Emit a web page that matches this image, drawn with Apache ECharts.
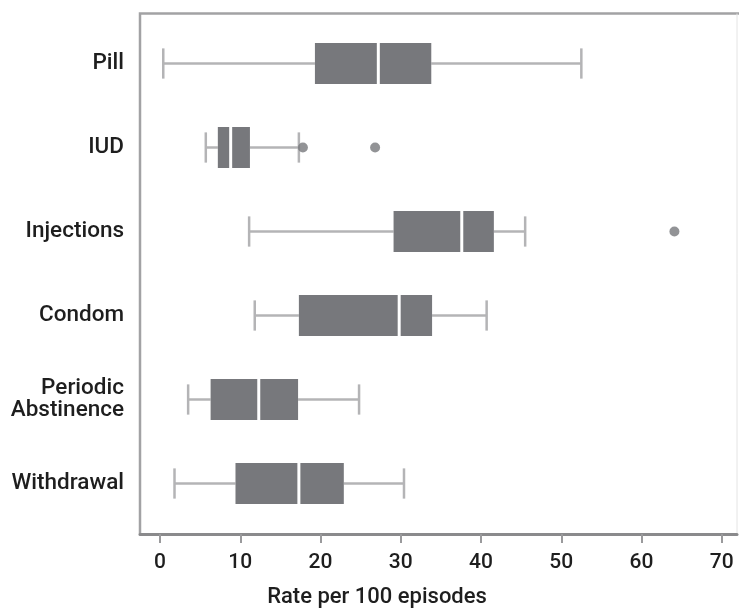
<!DOCTYPE html>
<html>
<head>
<meta charset="utf-8">
<script src="https://cdn.jsdelivr.net/npm/echarts@6/dist/echarts.min.js"></script>
<style>
  html, body { margin: 0; padding: 0; background: #fff; }
  #chart { width: 739px; height: 613px; }
</style>
</head>
<body>
<div id="chart"></div>
<script>
// ---- data ----
const categories = ['Pill', 'IUD', 'Injections', 'Condom', 'Periodic\nAbstinence', 'Withdrawal'];
const lowWhisker = [0.4, 5.7, 11.1, 11.8, 3.5, 1.8];
const q1 = [19.3, 7.2, 29.1, 17.3, 6.3, 9.4];
const median = [27.2, 8.8, 37.6, 29.8, 12.3, 17.3];
const q3 = [33.8, 11.2, 41.6, 33.9, 17.2, 22.9];
const highWhisker = [52.5, 17.3, 45.5, 40.7, 24.8, 30.4];
const outlierCategory = ['IUD', 'IUD', 'Injections'];
const outlierValue = [17.8, 26.8, 64.1];
const tickValues = [0, 10, 20, 30, 40, 50, 60, 70];
const axisTitle = 'Rate per 100 episodes';

const boxData = categories.map((c, i) => [i, lowWhisker[i], q1[i], median[i], q3[i], highWhisker[i]]);
const outlierData = outlierValue.map((v, i) => [v, categories.indexOf(outlierCategory[i])]);

const FONT = 'Roboto, "Noto Sans", sans-serif';
const chart = echarts.init(document.getElementById('chart'), null, { renderer: 'canvas' });

function renderBox(params, api) {
  const idx = api.value(0);
  const pLow = api.coord([api.value(1), idx]);
  const pQ1 = api.coord([api.value(2), idx]);
  const pMed = api.coord([api.value(3), idx]);
  const pQ3 = api.coord([api.value(4), idx]);
  const pHigh = api.coord([api.value(5), idx]);
  const band = api.size([0, 1])[1];
  const boxH = band * 0.49;
  const capH = band * 0.36;
  const y = pMed[1];
  const whiskerStyle = { stroke: '#b4b4b6', lineWidth: 2.5 };
  return {
    type: 'group',
    children: [
      { type: 'line', shape: { x1: pLow[0], y1: y, x2: pQ1[0], y2: y }, style: whiskerStyle },
      { type: 'line', shape: { x1: pQ3[0], y1: y, x2: pHigh[0], y2: y }, style: whiskerStyle },
      { type: 'line', shape: { x1: pLow[0], y1: y - capH / 2, x2: pLow[0], y2: y + capH / 2 }, style: whiskerStyle },
      { type: 'line', shape: { x1: pHigh[0], y1: y - capH / 2, x2: pHigh[0], y2: y + capH / 2 }, style: whiskerStyle },
      { type: 'rect', shape: { x: pQ1[0], y: y - boxH / 2, width: pQ3[0] - pQ1[0], height: boxH }, style: { fill: '#77787c' } },
      { type: 'line', shape: { x1: pMed[0], y1: y - boxH / 2, x2: pMed[0], y2: y + boxH / 2 }, style: { stroke: '#ffffff', lineWidth: 3 } }
    ]
  };
}

const option = {
  animation: false,
  backgroundColor: '#ffffff',
  grid: { left: 140, right: 2, top: 21.5, bottom: 87.5, containLabel: false },
  xAxis: {
    type: 'value',
    min: -2.5,
    max: 71.9,
    offset: 8.5,
    axisLine: { show: true, lineStyle: { color: '#8a8a8c', width: 3 } },
    axisTick: { show: true, customValues: tickValues, length: 9, lineStyle: { color: '#9a9a9c', width: 2 } },
    axisLabel: { customValues: tickValues, margin: 18, fontFamily: FONT, fontSize: 21, fontWeight: 500, color: '#1e1e1e' },
    splitLine: { show: false }
  },
  yAxis: {
    type: 'category',
    data: categories,
    inverse: true,
    axisLine: { show: false },
    axisTick: { show: false },
    axisLabel: { margin: 16, fontFamily: FONT, fontSize: 22.5, fontWeight: 500, color: '#1e1e1e', lineHeight: 22, align: 'right' },
    splitLine: { show: false }
  },
  graphic: [
    { type: 'polyline', z: 0, shape: { points: [[140, 534], [140, 13.5], [739, 13.5]] }, style: { stroke: '#a2a2a4', lineWidth: 2.5, fill: null } },
    { type: 'line', z: 0, shape: { x1: 737, y1: 13.5, x2: 737, y2: 534 }, style: { stroke: '#e4e4e4', lineWidth: 1 } },
    { type: 'text', x: 377, y: 597, style: { text: axisTitle, fontFamily: FONT, fontSize: 22, fontWeight: 500, fill: '#1e1e1e', align: 'center', verticalAlign: 'middle' } }
  ],
  series: [
    {
      type: 'custom',
      renderItem: renderBox,
      encode: { x: [1, 2, 3, 4, 5], y: 0 },
      data: boxData,
      z: 2
    },
    {
      type: 'scatter',
      data: outlierData,
      symbol: 'circle',
      symbolSize: 10,
      itemStyle: { color: '#77787c' },
      z: 3
    }
  ]
};
chart.setOption(option);
</script>
</body>
</html>
